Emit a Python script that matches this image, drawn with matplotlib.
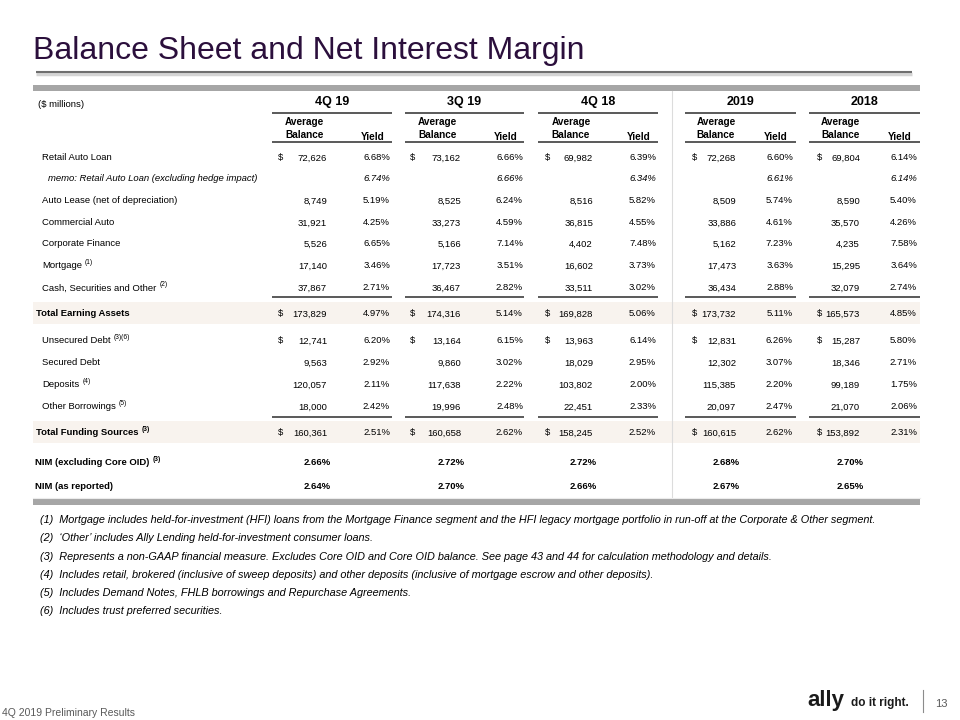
import matplotlib
matplotlib.use("Agg")
import matplotlib.pyplot as plt
from matplotlib.patches import Rectangle

plt.rcParams['font.family'] = ['Liberation Sans', 'DejaVu Sans']

# ---------------- data ----------------
periods = ["4Q 19", "3Q 19", "4Q 18", "2019", "2018"]

row_labels = ["Retail Auto Loan",
              "memo: Retail Auto Loan (excluding hedge impact)",
              "Auto Lease (net of depreciation)",
              "Commercial Auto",
              "Corporate Finance",
              "Mortgage",
              "Cash, Securities and Other",
              "Total Earning Assets",
              "Unsecured Debt",
              "Secured Debt",
              "Deposits",
              "Other Borrowings",
              "Total Funding Sources"]
row_notes = ["", "", "", "", "", "(1)", "(2)", "", "(3)(6)", "", "(4)", "(5)", "(3)"]
dollar_rows = [0, 7, 8, 12]
total_rows = [7, 12]
memo_rows = [1]

bal_4q19 = [72626, None, 8749, 31921, 5526, 17140, 37867, 173829, 12741, 9563, 120057, 18000, 160361]
yld_4q19 = [6.68, 6.74, 5.19, 4.25, 6.65, 3.46, 2.71, 4.97, 6.20, 2.92, 2.11, 2.42, 2.51]
bal_3q19 = [73162, None, 8525, 33273, 5166, 17723, 36467, 174316, 13164, 9860, 117638, 19996, 160658]
yld_3q19 = [6.66, 6.66, 6.24, 4.59, 7.14, 3.51, 2.82, 5.14, 6.15, 3.02, 2.22, 2.48, 2.62]
bal_4q18 = [69982, None, 8516, 36815, 4402, 16602, 33511, 169828, 13963, 18029, 103802, 22451, 158245]
yld_4q18 = [6.39, 6.34, 5.82, 4.55, 7.48, 3.73, 3.02, 5.06, 6.14, 2.95, 2.00, 2.33, 2.52]
bal_2019 = [72268, None, 8509, 33886, 5162, 17473, 36434, 173732, 12831, 12302, 115385, 20097, 160615]
yld_2019 = [6.60, 6.61, 5.74, 4.61, 7.23, 3.63, 2.88, 5.11, 6.26, 3.07, 2.20, 2.47, 2.62]
bal_2018 = [69804, None, 8590, 35570, 4235, 15295, 32079, 165573, 15287, 18346, 99189, 21070, 153892]
yld_2018 = [6.14, 6.14, 5.40, 4.26, 7.58, 3.64, 2.74, 4.85, 5.80, 2.71, 1.75, 2.06, 2.31]

nim_labels = ["NIM (excluding Core OID)", "NIM (as reported)"]
nim_notes = ["(3)", ""]
nim_excl = [2.66, 2.72, 2.72, 2.68, 2.70]
nim_rep = [2.64, 2.70, 2.66, 2.67, 2.65]

footnotes = [
    "(1)  Mortgage includes held-for-investment (HFI) loans from the Mortgage Finance segment and the HFI legacy mortgage portfolio in run-off at the Corporate & Other segment.",
    "(2)  \u2018Other\u2019 includes Ally Lending held-for-investment consumer loans.",
    "(3)  Represents a non-GAAP financial measure. Excludes Core OID and Core OID balance. See page 43 and 44 for calculation methodology and details.",
    "(4)  Includes retail, brokered (inclusive of sweep deposits) and other deposits (inclusive of mortgage escrow and other deposits).",
    "(5)  Includes Demand Notes, FHLB borrowings and Repurchase Agreements.",
    "(6)  Includes trust preferred securities.",
]

balances = [bal_4q19, bal_3q19, bal_4q18, bal_2019, bal_2018]
yields = [yld_4q19, yld_3q19, yld_4q18, yld_2019, yld_2018]
nims = [nim_excl, nim_rep]

# ---------------- layout (pixels) ----------------
grp_left = [272, 405, 538, 685, 809]
grp_right = [392, 524, 658, 796, 920]
dollar_x = [278, 410, 545, 692, 817]
bal_x = [327, 461, 593, 736, 860]
yld_x = [390, 523, 656, 793, 917]
row_y = [157, 178, 200, 222, 243, 265, 287, 313, 340, 362, 384, 406, 432]
nim_y = [462, 486]

fig = plt.figure(figsize=(9.6, 7.2), dpi=100)
ax = fig.add_axes([0, 0, 1, 1])
ax.set_xlim(0, 960)
ax.set_ylim(720, 0)
ax.axis('off')
renderer = fig.canvas.get_renderer()

line_c = "#595959"
fs = 6.8
off = 3.4  # baseline offset from row centre


def label_with_note(x, y, text, note, **kw):
    t = ax.text(x, y + off, text, fontsize=fs, ha='left', va='baseline', **kw)
    if note:
        bb = t.get_window_extent(renderer=renderer)
        ax.text(bb.x1 + 3, y - 1, note, fontsize=4.8, ha='left', va='baseline',
                fontweight=kw.get('fontweight', 'normal'))


# title and rules
ax.text(33, 59, "Balance Sheet and Net Interest Margin", fontsize=23, color="#2B0F3C",
        ha='left', va='baseline')
ax.plot([36, 912], [73.5, 73.5], color="#d4d4d4", lw=2.5, solid_capstyle='butt')
ax.plot([36, 912], [72, 72], color="#6e6e6e", lw=1.5, solid_capstyle='butt')
ax.add_patch(Rectangle((33, 85), 887, 5.5, color="#a6a6a6", lw=0))
ax.add_patch(Rectangle((33, 499), 887, 5.5, color="#a6a6a6", lw=0))

# shaded total bands
for r in total_rows:
    ax.add_patch(Rectangle((33, row_y[r] - 11), 887, 22, color="#f8f3ee", lw=0, zorder=0))

# vertical separator
ax.plot([672, 672], [91, 498], color="#dcdcdc", lw=0.8)
ax.plot([33, 920], [498, 498], color="#ececec", lw=0.8)

ax.text(38, 104 + off, "($ millions)", fontsize=fs, ha='left', va='baseline')

for i, p in enumerate(periods):
    cx = (grp_left[i] + grp_right[i]) / 2
    ax.text(cx, 105, p, fontsize=9, fontweight='bold', ha='center', va='baseline')
    for yl in (113, 142, 297, 417):
        ax.plot([grp_left[i], grp_right[i]], [yl, yl], color=line_c, lw=1.4,
                solid_capstyle='butt')
    bc = (dollar_x[i] + bal_x[i]) / 2 + 2
    ax.text(bc, 125, "Average", fontsize=7.2, fontweight='bold', ha='center', va='baseline')
    ax.text(bc, 138, "Balance", fontsize=7.2, fontweight='bold', ha='center', va='baseline')
    ax.text(yld_x[i] - 17, 140, "Yield", fontsize=7.2, fontweight='bold', ha='center',
            va='baseline')

# rows
for r, lab in enumerate(row_labels):
    y = row_y[r]
    bold = r in total_rows
    italic = r in memo_rows
    x0 = 36 if bold else (48 if italic else 42)
    label_with_note(x0, y, lab, row_notes[r],
                    fontweight='bold' if bold else 'normal',
                    fontstyle='italic' if italic else 'normal')
    for i in range(len(periods)):
        b = balances[i][r]
        if b is not None:
            ax.text(bal_x[i], y + off, f"{b:,}", fontsize=fs, ha='right', va='baseline')
        if r in dollar_rows:
            ax.text(dollar_x[i], y + off, "$", fontsize=fs, ha='left', va='baseline')
        ax.text(yld_x[i], y + off, f"{yields[i][r]:.2f}%", fontsize=fs, ha='right',
                va='baseline', fontstyle='italic' if italic else 'normal')

# NIM rows
for k in range(2):
    label_with_note(35, nim_y[k], nim_labels[k], nim_notes[k], fontweight='bold')
    for i in range(len(periods)):
        ax.text(bal_x[i] + 4, nim_y[k] + off, f"{nims[k][i]:.2f}%", fontsize=fs,
                fontweight='bold', ha='right', va='baseline')

# footnotes
for k, fn in enumerate(footnotes):
    ax.text(40, 523 + k * 18.3, fn, fontsize=7.8, fontstyle='italic', ha='left', va='baseline')

# footer
ax.text(2, 716, "4Q 2019 Preliminary Results", fontsize=7.5, color="#595959",
        ha='left', va='baseline')
ax.text(807, 706, "ally", fontsize=16, fontweight='bold', color="#1a1a1a",
        ha='left', va='baseline')
ax.text(851, 706, "do it right.", fontsize=8.5, fontweight='bold', color="#1a1a1a",
        ha='left', va='baseline')
ax.plot([923, 923], [690, 712], color="#8c8c8c", lw=0.8)
ax.text(935, 707, "13", fontsize=8, color="#595959", ha='left', va='baseline')

fig.savefig("out.png", dpi=100)
